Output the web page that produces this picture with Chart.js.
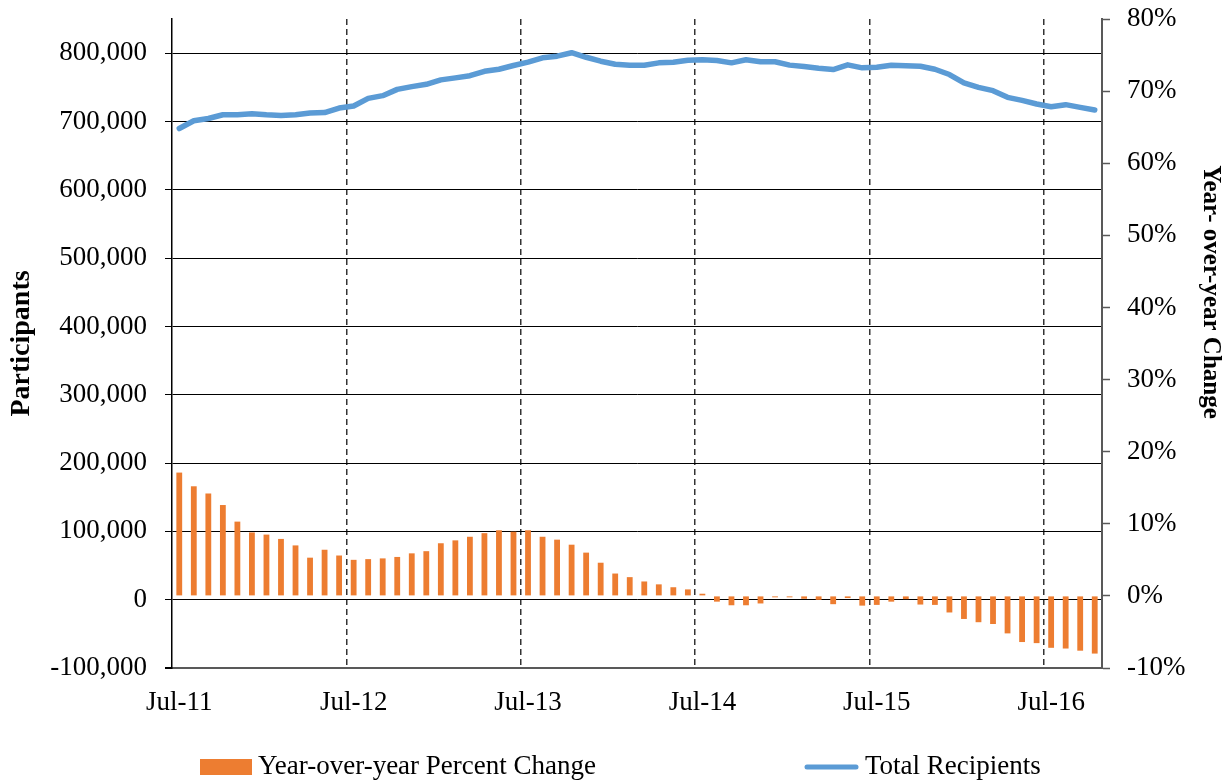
<!DOCTYPE html>
<html>
<head>
<meta charset="utf-8">
<script src="https://cdn.jsdelivr.net/npm/chart.js@4.4.1/dist/chart.umd.min.js"></script>
<style>
  html, body { margin: 0; padding: 0; background: #fff; }
</style>
</head>
<body>
<canvas id="chart" width="1230" height="782"></canvas>
<script>
const months = [
  'Jul-11', 'Aug-11', 'Sep-11', 'Oct-11', 'Nov-11', 'Dec-11',
  'Jan-12', 'Feb-12', 'Mar-12', 'Apr-12', 'May-12', 'Jun-12', 'Jul-12', 'Aug-12', 'Sep-12', 'Oct-12', 'Nov-12', 'Dec-12',
  'Jan-13', 'Feb-13', 'Mar-13', 'Apr-13', 'May-13', 'Jun-13', 'Jul-13', 'Aug-13', 'Sep-13', 'Oct-13', 'Nov-13', 'Dec-13',
  'Jan-14', 'Feb-14', 'Mar-14', 'Apr-14', 'May-14', 'Jun-14', 'Jul-14', 'Aug-14', 'Sep-14', 'Oct-14', 'Nov-14', 'Dec-14',
  'Jan-15', 'Feb-15', 'Mar-15', 'Apr-15', 'May-15', 'Jun-15', 'Jul-15', 'Aug-15', 'Sep-15', 'Oct-15', 'Nov-15', 'Dec-15',
  'Jan-16', 'Feb-16', 'Mar-16', 'Apr-16', 'May-16', 'Jun-16', 'Jul-16', 'Aug-16', 'Sep-16', 'Oct-16'
];

// Total Recipients (left axis)
const recipients = [
  689700, 701000, 704400, 709800, 709800, 711300, 709800, 708800, 709800, 712300, 713000, 719700,
  722600, 733800, 737800, 747000, 751000, 754400, 760900, 763800, 767000, 773500, 776500, 781900,
  786800, 793200, 795600, 800600, 794000, 788200, 783800, 782400, 782400, 785800, 786800, 789700,
  790300, 789300, 785800, 790300, 787400, 787400, 782500, 780400, 777900, 776000, 782900, 778500,
  779400, 782400, 781500, 780900, 776500, 768700, 756500, 750000, 745100, 735300, 730900, 725600,
  721600, 724600, 720600, 716800
];

// Year-over-year Percent Change (right axis, %)
const yoyChange = [
  17.1, 15.2, 14.2, 12.6, 10.3, 8.8, 8.5, 7.9, 7.0, 5.3, 6.4, 5.6,
  5.0, 5.1, 5.2, 5.4, 5.9, 6.2, 7.3, 7.7, 8.2, 8.7, 9.1, 8.9,
  9.1, 8.2, 7.8, 7.1, 6.0, 4.6, 3.1, 2.6, 2.0, 1.6, 1.2, 0.9,
  0.3, -0.8, -1.3, -1.3, -1.05, -0.2, -0.2, -0.4, -0.55, -1.15, -0.3, -1.35,
  -1.25, -0.8, -0.45, -1.2, -1.25, -2.3, -3.2, -3.65, -3.9, -5.2, -6.4, -6.55,
  -7.2, -7.3, -7.6, -8.0
];

const xTickLabels = ['Jul-11', 'Jul-12', 'Jul-13', 'Jul-14', 'Jul-15', 'Jul-16'];
const leftTickValues = [-100000, 0, 100000, 200000, 300000, 400000, 500000, 600000, 700000, 800000];
const rightTickValues = [-10, 0, 10, 20, 30, 40, 50, 60, 70, 80];
const leftTitle = 'Participants';
const rightTitle = 'Year- over-year Change';

const FONT = "'Liberation Serif', 'Times New Roman', serif";

// legend and right axis title drawn by hand so they sit where the original has them
const extraText = {
  id: 'extraText',
  afterDraw(chart) {
    const ctx = chart.ctx;
    const ds = chart.data.datasets;
    ctx.save();
    ctx.font = '27px ' + FONT;
    ctx.textBaseline = 'middle';
    ctx.textAlign = 'left';

    ctx.fillStyle = ds[0].backgroundColor;
    ctx.fillRect(200, 759, 52, 16);
    ctx.fillStyle = '#000';
    ctx.fillText(ds[0].label, 258, 767);

    ctx.strokeStyle = ds[1].borderColor;
    ctx.lineWidth = 5;
    ctx.lineCap = 'round';
    ctx.beginPath();
    ctx.moveTo(807, 767);
    ctx.lineTo(856, 767);
    ctx.stroke();
    ctx.fillText(ds[1].label, 865, 767);

    ctx.translate(1210, 292);
    ctx.rotate(Math.PI / 2);
    ctx.font = 'bold 25px ' + FONT;
    ctx.textAlign = 'center';
    ctx.fillText(rightTitle, 0, 0);
    ctx.restore();
  }
};

new Chart(document.getElementById('chart'), {
  data: {
    labels: months,
    datasets: [{
      type: 'bar',
      label: 'Year-over-year Percent Change',
      data: yoyChange,
      yAxisID: 'y1',
      backgroundColor: '#ED7D31',
      barPercentage: 0.4,
      categoryPercentage: 1,
      order: 2
    }, {
      type: 'line',
      label: 'Total Recipients',
      data: recipients,
      yAxisID: 'y',
      borderColor: '#5B9BD5',
      backgroundColor: '#5B9BD5',
      borderWidth: 5.5,
      pointRadius: 0,
      tension: 0,
      borderJoinStyle: 'round',
      borderCapStyle: 'round',
      order: 1
    }]
  },
  options: {
    responsive: false,
    animation: false,
    devicePixelRatio: 1,
    layout: { padding: { top: 19, bottom: 60, left: 0, right: 0 } },
    plugins: {
      legend: { display: false },
      tooltip: { enabled: false }
    },
    scales: {
      x: {
        type: 'category',
        offset: true,
        afterFit: s => { s.height = 54; s.paddingLeft = 0; s.paddingRight = 0; },
        grid: {
          offset: true,
          drawTicks: false,
          color: ctx => (ctx.index > 0 && ctx.index % 12 === 0) ? '#333' : 'rgba(0,0,0,0)',
          lineWidth: 1.5
        },
        border: { display: true, color: '#595959', width: 2, dash: [6, 4] },
        ticks: {
          autoSkip: false,
          maxRotation: 0,
          padding: 19,
          color: '#000',
          font: { family: FONT, size: 27 },
          callback: (v, i) => i % 12 === 0 ? xTickLabels[i / 12] : ''
        }
      },
      y: {
        position: 'left',
        min: -100000,
        max: 850000,
        afterBuildTicks: s => { s.ticks = leftTickValues.map(v => ({ value: v })); },
        afterFit: s => { s.width = 172; s.paddingTop = 0; s.paddingBottom = 0; },
        grid: {
          color: ctx => ctx.tick && ctx.tick.value === -100000 ? '#595959' : '#000',
          lineWidth: ctx => ctx.tick && ctx.tick.value === -100000 ? 2 : 1,
          tickLength: 7,
          tickColor: '#000'
        },
        border: { color: '#000', width: 1.5 },
        title: {
          display: true,
          text: leftTitle,
          color: '#000',
          font: { family: FONT, size: 28, weight: 'bold' },
          padding: { top: 5, bottom: 0 }
        },
        ticks: {
          padding: 18,
          color: '#000',
          font: { family: FONT, size: 27 },
          callback: v => v.toLocaleString('en-US')
        }
      },
      y1: {
        position: 'right',
        min: -10,
        max: 80,
        afterBuildTicks: s => { s.ticks = rightTickValues.map(v => ({ value: v })); },
        afterFit: s => { s.width = 128; s.paddingTop = 0; s.paddingBottom = 0; },
        grid: {
          drawOnChartArea: false,
          tickLength: 8,
          tickColor: '#595959',
          tickWidth: 1.5
        },
        border: { color: '#595959', width: 2 },
        ticks: {
          padding: 17,
          color: '#000',
          font: { family: FONT, size: 27 },
          callback: v => v + '%'
        }
      }
    }
  },
  plugins: [extraText]
});
</script>
</body>
</html>
